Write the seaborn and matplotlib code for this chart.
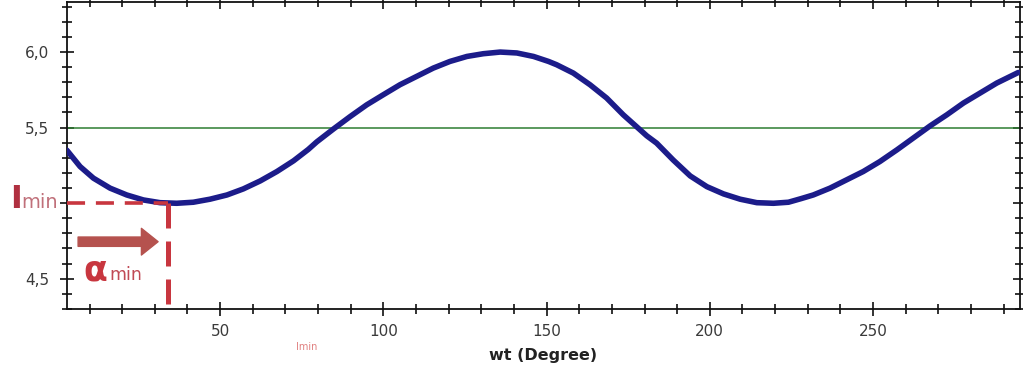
import numpy as np
import pandas as pd
import matplotlib
matplotlib.use("Agg")
import matplotlib.pyplot as plt
from matplotlib.ticker import MultipleLocator, FixedLocator
import seaborn as sns

# ---- data ----
angle = [3.05, 7.1, 11.2, 16.3, 21.4, 26.5, 31.6, 36.7, 41.8, 46.9, 52.1,
         57.1, 62.3, 67.4, 72.5, 77.0, 79.6, 84.7, 89.8, 94.9, 100.0, 105.1,
         110.2, 115.3, 120.4, 125.6, 130.6, 135.8, 140.9, 146.0, 150.6,
         153.1, 158.2, 163.3, 168.4, 173.5, 177.6, 180.7, 183.7, 188.8,
         194.0, 199.1, 204.2, 209.3, 214.4, 219.5, 224.1, 228.0, 231.7,
         236.8, 241.9, 247.0, 252.1, 257.3, 262.3, 267.5, 272.6, 277.7,
         282.8, 287.9, 294.5]
intensity = [5.35, 5.242, 5.165, 5.099, 5.054, 5.021, 5.003, 4.999, 5.006,
             5.026, 5.054, 5.094, 5.147, 5.209, 5.28, 5.355, 5.405, 5.49,
             5.572, 5.65, 5.717, 5.783, 5.838, 5.893, 5.937, 5.97, 5.988,
             5.999, 5.993, 5.97, 5.937, 5.915, 5.86, 5.783, 5.695, 5.584,
             5.505, 5.445, 5.397, 5.285, 5.18, 5.109, 5.061, 5.026, 5.003,
             4.999, 5.006, 5.03, 5.054, 5.099, 5.154, 5.209, 5.275, 5.352,
             5.43, 5.511, 5.584, 5.662, 5.728, 5.794, 5.864]
mean_level = 5.5
i_min = 5.0
alpha_min = 34.0
x_ticks = [50, 100, 150, 200, 250]
y_ticks = [4.5, 5.0, 5.5, 6.0]
y_tick_labels = ["4,5", "", "5,5", "6,0"]
x_label = "wt (Degree)"

df = pd.DataFrame({"angle": angle, "intensity": intensity})

sns.set_theme(style="white")
plt.rcParams["font.family"] = ["DejaVu Sans"]

fig = plt.figure(figsize=(10.23, 3.72), dpi=100)
ax = fig.add_axes([0.0655, 0.1694, 0.9315, 0.8252])

sns.lineplot(data=df, x="angle", y="intensity", ax=ax, color="#1c1c8a",
             linewidth=4, zorder=3)
ax.axhline(mean_level, color="#2e7d32", linewidth=1.1, zorder=2)

red = "#c8363f"
ax.plot([3.1, alpha_min], [i_min, i_min], color=red, linewidth=2.6,
        dashes=(5, 3), zorder=4)
ax.plot([alpha_min, alpha_min], [i_min, 4.30], color=red, linewidth=3.6,
        dashes=(5, 2.6), zorder=4)

ax.set_xlim(3.1, 295)
ax.set_ylim(4.30, 6.33)

ax.xaxis.set_major_locator(FixedLocator(x_ticks))
ax.xaxis.set_minor_locator(MultipleLocator(10))
ax.yaxis.set_major_locator(FixedLocator(y_ticks))
ax.yaxis.set_minor_locator(MultipleLocator(0.1))
ax.set_yticklabels(y_tick_labels)
ax.set_xticklabels([str(v) for v in x_ticks])

for s in ax.spines.values():
    s.set_color("#111111")
    s.set_linewidth(1.3)

ax.tick_params(which="both", direction="inout", top=True, right=True,
               bottom=True, left=True, color="#111111", width=1.2,
               labelsize=11, labelcolor="#3a3a3a")
ax.tick_params(which="major", length=10, pad=6)
ax.tick_params(which="minor", length=7)
ax.tick_params(axis="y", which="major", pad=8)

ax.set_xlabel(x_label, fontsize=11.5, fontweight="bold", color="#222222",
              labelpad=6)
ax.set_ylabel("")

# annotations
fig.text(10 / 1023, 1 - 208 / 372, "I", fontsize=23, fontweight="bold",
         color="#b03040", ha="left", va="baseline")
fig.text(21 / 1023, 1 - 208 / 372, "min", fontsize=14, color="#c0707a",
         ha="left", va="baseline")
ax.text(8.0, 4.491, "\u03b1", fontsize=25, fontweight="bold", color=red,
        ha="left", va="baseline")
ax.text(16.2, 4.491, "min", fontsize=12.5, color="#c04a55", ha="left",
        va="baseline")
ax.annotate("", xy=(31.0, 4.745), xytext=(6.5, 4.745),
            arrowprops=dict(arrowstyle="simple,head_width=1.6,head_length=1.0,tail_width=0.56",
                            color="#b5524e", shrinkA=0, shrinkB=0))
ax.text(76.6, -0.125, "Imin", transform=ax.get_xaxis_transform(),
        fontsize=7, color="#e08080", ha="center", va="center")

fig.savefig("out.png", dpi=100)
